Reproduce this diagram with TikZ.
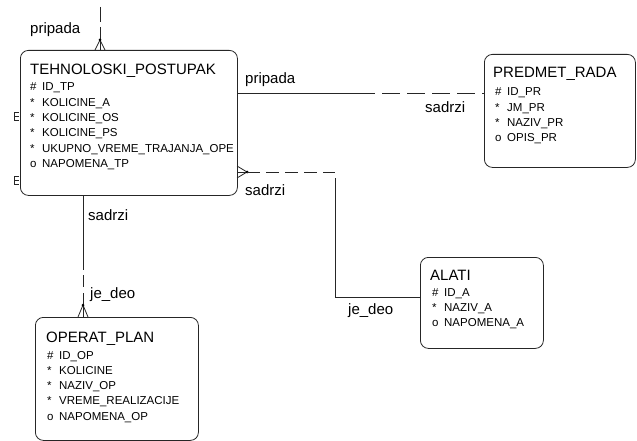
\documentclass[tikz,border=0pt]{standalone}
\usepackage{fontspec}
\setmainfont{Liberation Sans}

\tikzset{
  entity/.style={draw=black!85, line width=0.8pt, rounded corners=8pt, anchor=north west, inner sep=0pt},
  etitle/.style={anchor=base west, inner sep=0pt, font=\fontsize{15}{18}\selectfont},
  eattr/.style={anchor=base west, inner sep=0pt, font=\fontsize{11.5}{15.3}\selectfont},
  rlabel/.style={anchor=base west, inner sep=0pt, font=\fontsize{15}{18}\selectfont},
  rel/.style={line width=0.8pt, black!85},
  opt/.style={rel, dash pattern=on 13pt off 6pt},
}

\begin{document}
\begin{tikzpicture}[x=1pt, y=-1pt]
  \useasboundingbox (0,0) rectangle (637,441);

  % entities
  \node[entity, minimum width=217pt, minimum height=145pt] (tp) at (20,50) {};
  \node[entity, minimum width=151pt, minimum height=113pt] (pr) at (484,54) {};
  \node[entity, minimum width=123pt, minimum height=91pt] (al) at (420,257) {};
  \node[entity, minimum width=163pt, minimum height=123pt] (op) at (35,317) {};

  \node[etitle] (tpT) at (30,75) {TEHNOLOSKI\_POSTUPAK};
  \node[eattr] (tpA) at (30,91) {\begin{tabular}[t]{@{}l@{\hspace{5.6pt}}l@{}}
    \# & ID\_TP\\ {*} & KOLICINE\_A\\ {*} & KOLICINE\_OS\\ {*} & KOLICINE\_PS\\
    {*} & UKUPNO\_VREME\_TRAJANJA\_OPE\\ o & NAPOMENA\_TP\end{tabular}};

  \node[etitle] (prT) at (493,78) {PREDMET\_RADA};
  \node[eattr] (prA) at (495,96) {\begin{tabular}[t]{@{}l@{\hspace{5.6pt}}l@{}}
    \# & ID\_PR\\ {*} & JM\_PR\\ {*} & NAZIV\_PR\\ o & OPIS\_PR\end{tabular}};

  \node[etitle] (alT) at (430,280) {ALATI};
  \node[eattr] (alA) at (432,296) {\begin{tabular}[t]{@{}l@{\hspace{5.6pt}}l@{}}
    \# & ID\_A\\ {*} & NAZIV\_A\\ o & NAPOMENA\_A\end{tabular}};

  \node[etitle] (opT) at (46,342) {OPERAT\_PLAN};
  \node[eattr] (opA) at (47,359) {\begin{tabular}[t]{@{}l@{\hspace{5.6pt}}l@{}}
    \# & ID\_OP\\ {*} & KOLICINE\\ {*} & NAZIV\_OP\\ {*} & VREME\_REALIZACIJE\\
    o & NAPOMENA\_OP\end{tabular}};

  % top relation
  \coordinate (upA) at (100,7);
  \coordinate (ftA) at (100,40);
  \draw[opt, dash pattern=on 15pt off 5pt] (upA) -- (ftA);
  \foreach \d in {-5,0,5} \draw[rel] (ftA) -- ++(\d,10);
  \fill[black] (ftA) circle (1.5pt);
  \node[rlabel] (lblA) at (30,34) {pripada};

  % tp - pr
  \draw[rel] (tp.east |- 0,93) -- (357,93) coordinate (brkB);
  \draw[opt, dash pattern=on 18pt off 7pt] (brkB) -- (pr.west |- 0,93);
  \node[rlabel] (lblB1) at (245,84) {pripada};
  \node[rlabel] (lblB2) at (425,113) {sadrzi};

  % tp - al
  \coordinate (ftC) at (247,172);
  \coordinate (bndC) at (335,172);
  \foreach \d in {-6,0,6} \draw[rel] (ftC) -- ++(-10,\d);
  \fill[black] (ftC) circle (1.5pt);
  \draw[opt] (ftC) -- (bndC);
  \draw[rel] (335,178) -- (335,297) -- (al.west |- 0,297);
  \node[rlabel] (lblC1) at (245,195) {sadrzi};
  \node[rlabel] (lblC2) at (348,314) {je\_deo};

  % tp - op
  \coordinate (ftD) at (83,305);
  \draw[rel] (tp.south -| 83,0) -- (83,270);
  \draw[opt, dash pattern=on 12pt off 6pt] (83,275) -- (ftD);
  \foreach \d in {-5,0,5} \draw[rel] (ftD) -- ++(\d,12);
  \fill[black] (ftD) circle (1.5pt);
  \node[rlabel] (lblD1) at (88,220) {sadrzi};
  \node[rlabel] (lblD2) at (90,298) {je\_deo};

  % small marks on the left side
  \foreach \c in {116,180}
    \draw[rel, line width=0.6pt] (19,\c-4) -- (14,\c-4) -- (14,\c+4) -- (19,\c+4) (14,\c) -- (19,\c);
\end{tikzpicture}
\end{document}
